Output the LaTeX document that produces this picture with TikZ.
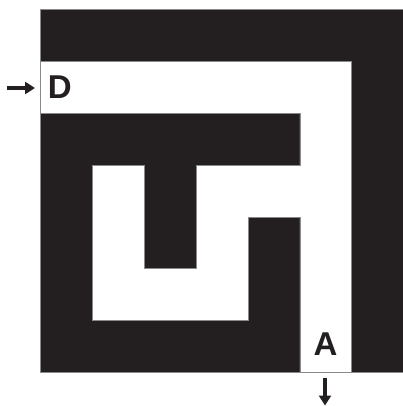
\documentclass[tikz,border=0pt]{standalone}
\usepackage{fontspec}
\setmainfont{Liberation Sans}
\usetikzlibrary{arrows.meta}
\definecolor{mazeblack}{HTML}{231F20}
\definecolor{edgegray}{HTML}{8A8A8A}
\begin{document}
\begin{tikzpicture}[x=1pt,y=-1pt,
  path/.style={fill=white,draw=edgegray,line width=0.8pt,line join=miter},
  lbl/.style={inner sep=0pt,font=\fontsize{33}{33}\selectfont\bfseries,text=mazeblack},
  arr/.style={draw=mazeblack,line width=3.2pt,-{Triangle[length=10pt,width=12pt]}}]
\useasboundingbox (0,0) rectangle (403,406);
\def\cs{51.85}
\def\ox{40.7}
\def\oy{9.5}
\newcommand\gx[1]{\ox+#1*\cs}
\newcommand\gy[1]{\oy+#1*\cs}
\fill[mazeblack,draw=edgegray,line width=0.8pt] (\ox,\oy) rectangle (403.5,{\gy{7}});
\draw[path]
  ({\gx{0}},{\gy{1}}) -- ({\gx{6}},{\gy{1}}) -- ({\gx{6}},{\gy{7}}) -- ({\gx{5}},{\gy{7}})
  -- ({\gx{5}},{\gy{4}}) -- ({\gx{4}},{\gy{4}}) -- ({\gx{4}},{\gy{6}}) -- ({\gx{1}},{\gy{6}})
  -- ({\gx{1}},{\gy{3}}) -- ({\gx{2}},{\gy{3}}) -- ({\gx{2}},{\gy{5}}) -- ({\gx{3}},{\gy{5}})
  -- ({\gx{3}},{\gy{3}}) -- ({\gx{5}},{\gy{3}}) -- ({\gx{5}},{\gy{2}}) -- ({\gx{0}},{\gy{2}}) -- cycle;
\node[lbl,anchor=base west] (D) at (47.6,98.3) {D};
\node[lbl,anchor=base] (A) at (325.5,355) {A};
\coordinate (inS) at (7,88);
\coordinate (inE) at (35,88);
\coordinate (outS) at (325,378);
\coordinate (outE) at (325,405.5);
\draw[arr] (inS) -- (inE);
\draw[arr] (outS) -- (outE);
\end{tikzpicture}
\end{document}
